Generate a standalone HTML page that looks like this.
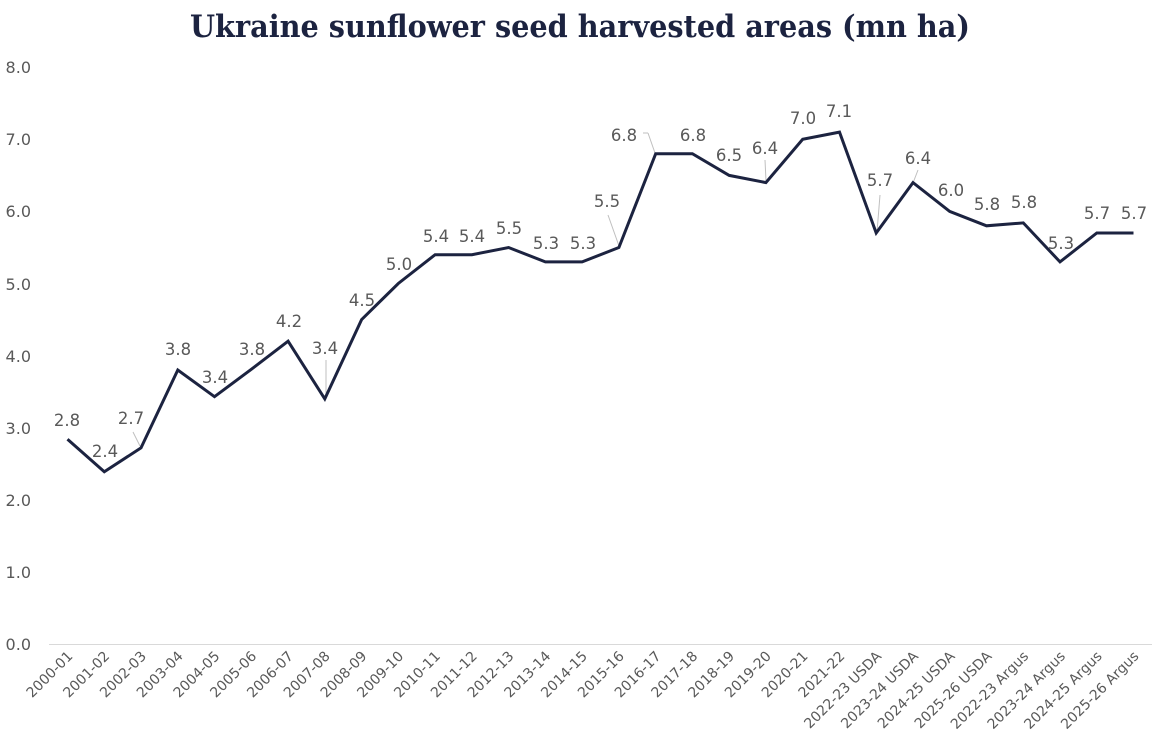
<!DOCTYPE html>
<html><head><meta charset="utf-8"><style>
html,body{margin:0;padding:0;background:#fff;}
svg{display:block;}
</style></head><body>
<svg width="1157" height="742" xmlns="http://www.w3.org/2000/svg">
<text x="190" y="37" textLength="780" lengthAdjust="spacingAndGlyphs" font-family="DejaVu Serif, Liberation Serif, serif" font-weight="bold" font-size="31" fill="#1c2340">Ukraine sunflower seed harvested areas (mn ha)</text>
<g font-family="DejaVu Sans, sans-serif" font-size="16" fill="#595959" text-anchor="end">
<text x="31" y="650">0.0</text><text x="31" y="578">1.0</text><text x="31" y="506">2.0</text><text x="31" y="434">3.0</text><text x="31" y="362">4.0</text><text x="31" y="290">5.0</text><text x="31" y="217">6.0</text><text x="31" y="145">7.0</text><text x="31" y="73">8.0</text>
</g>
<line x1="49" y1="644.5" x2="1152" y2="644.5" stroke="#d9d9d9" stroke-width="1"/>
<g font-family="DejaVu Sans, sans-serif" font-size="14" fill="#595959" text-anchor="end">
<text transform="translate(73.5,657) rotate(-45)">2000-01</text>
<text transform="translate(110.3,657) rotate(-45)">2001-02</text>
<text transform="translate(147.0,657) rotate(-45)">2002-03</text>
<text transform="translate(183.8,657) rotate(-45)">2003-04</text>
<text transform="translate(220.5,657) rotate(-45)">2004-05</text>
<text transform="translate(257.3,657) rotate(-45)">2005-06</text>
<text transform="translate(294.1,657) rotate(-45)">2006-07</text>
<text transform="translate(330.8,657) rotate(-45)">2007-08</text>
<text transform="translate(367.6,657) rotate(-45)">2008-09</text>
<text transform="translate(404.3,657) rotate(-45)">2009-10</text>
<text transform="translate(441.1,657) rotate(-45)">2010-11</text>
<text transform="translate(477.9,657) rotate(-45)">2011-12</text>
<text transform="translate(514.6,657) rotate(-45)">2012-13</text>
<text transform="translate(551.4,657) rotate(-45)">2013-14</text>
<text transform="translate(588.1,657) rotate(-45)">2014-15</text>
<text transform="translate(624.9,657) rotate(-45)">2015-16</text>
<text transform="translate(661.7,657) rotate(-45)">2016-17</text>
<text transform="translate(698.4,657) rotate(-45)">2017-18</text>
<text transform="translate(735.2,657) rotate(-45)">2018-19</text>
<text transform="translate(771.9,657) rotate(-45)">2019-20</text>
<text transform="translate(808.7,657) rotate(-45)">2020-21</text>
<text transform="translate(845.5,657) rotate(-45)">2021-22</text>
<text transform="translate(882.2,657) rotate(-45)">2022-23 USDA</text>
<text transform="translate(919.0,657) rotate(-45)">2023-24 USDA</text>
<text transform="translate(955.7,657) rotate(-45)">2024-25 USDA</text>
<text transform="translate(992.5,657) rotate(-45)">2025-26 USDA</text>
<text transform="translate(1029.3,657) rotate(-45)">2022-23 Argus</text>
<text transform="translate(1066.0,657) rotate(-45)">2023-24 Argus</text>
<text transform="translate(1102.8,657) rotate(-45)">2024-25 Argus</text>
<text transform="translate(1139.5,657) rotate(-45)">2025-26 Argus</text>
</g>
<g stroke="#bfbfbf" stroke-width="1">
<line x1="133" y1="432" x2="140" y2="446"/>
<line x1="326" y1="360" x2="326" y2="398"/>
<line x1="608" y1="215" x2="619" y2="246"/>
<line x1="643" y1="133" x2="648" y2="133"/>
<line x1="648" y1="133" x2="655" y2="153"/>
<line x1="765" y1="160" x2="766" y2="181"/>
<line x1="880" y1="195" x2="877" y2="232"/>
<line x1="918" y1="170" x2="913" y2="183"/>
</g>
<polyline fill="none" stroke="#1c2340" stroke-width="3" points="67.5,439.2 104.3,471.7 141.0,447.9 177.8,370.0 214.5,396.7 251.3,369.3 288.1,341.2 324.8,398.9 361.6,319.6 398.3,283.5 435.1,254.7 471.9,254.7 508.6,247.5 545.4,261.9 582.1,261.9 618.9,247.5 655.7,153.7 692.4,153.7 729.2,175.4 765.9,182.6 802.7,139.3 839.5,132.1 876.2,233.0 913.0,182.6 949.7,211.4 986.5,225.8 1023.3,222.9 1060.0,261.9 1096.8,233.0 1133.5,233.0"/>
<g font-family="DejaVu Sans, sans-serif" font-size="16.5" fill="#595959" text-anchor="middle">
<text x="67" y="426">2.8</text><text x="105" y="457">2.4</text><text x="131" y="424">2.7</text><text x="178" y="355">3.8</text><text x="215" y="383">3.4</text><text x="252" y="355">3.8</text><text x="289" y="327">4.2</text><text x="325" y="354">3.4</text><text x="362" y="306">4.5</text><text x="399" y="270">5.0</text><text x="436" y="242">5.4</text><text x="472" y="242">5.4</text><text x="509" y="234">5.5</text><text x="546" y="249">5.3</text><text x="583" y="249">5.3</text><text x="607" y="207">5.5</text><text x="624" y="141">6.8</text><text x="693" y="141">6.8</text><text x="729" y="161">6.5</text><text x="765" y="154">6.4</text><text x="803" y="124">7.0</text><text x="839" y="117">7.1</text><text x="880" y="186">5.7</text><text x="918" y="164">6.4</text><text x="951" y="196">6.0</text><text x="987" y="210">5.8</text><text x="1024" y="208">5.8</text><text x="1061" y="249">5.3</text><text x="1097" y="219">5.7</text><text x="1134" y="219">5.7</text>
</g>
</svg>
</body></html>
